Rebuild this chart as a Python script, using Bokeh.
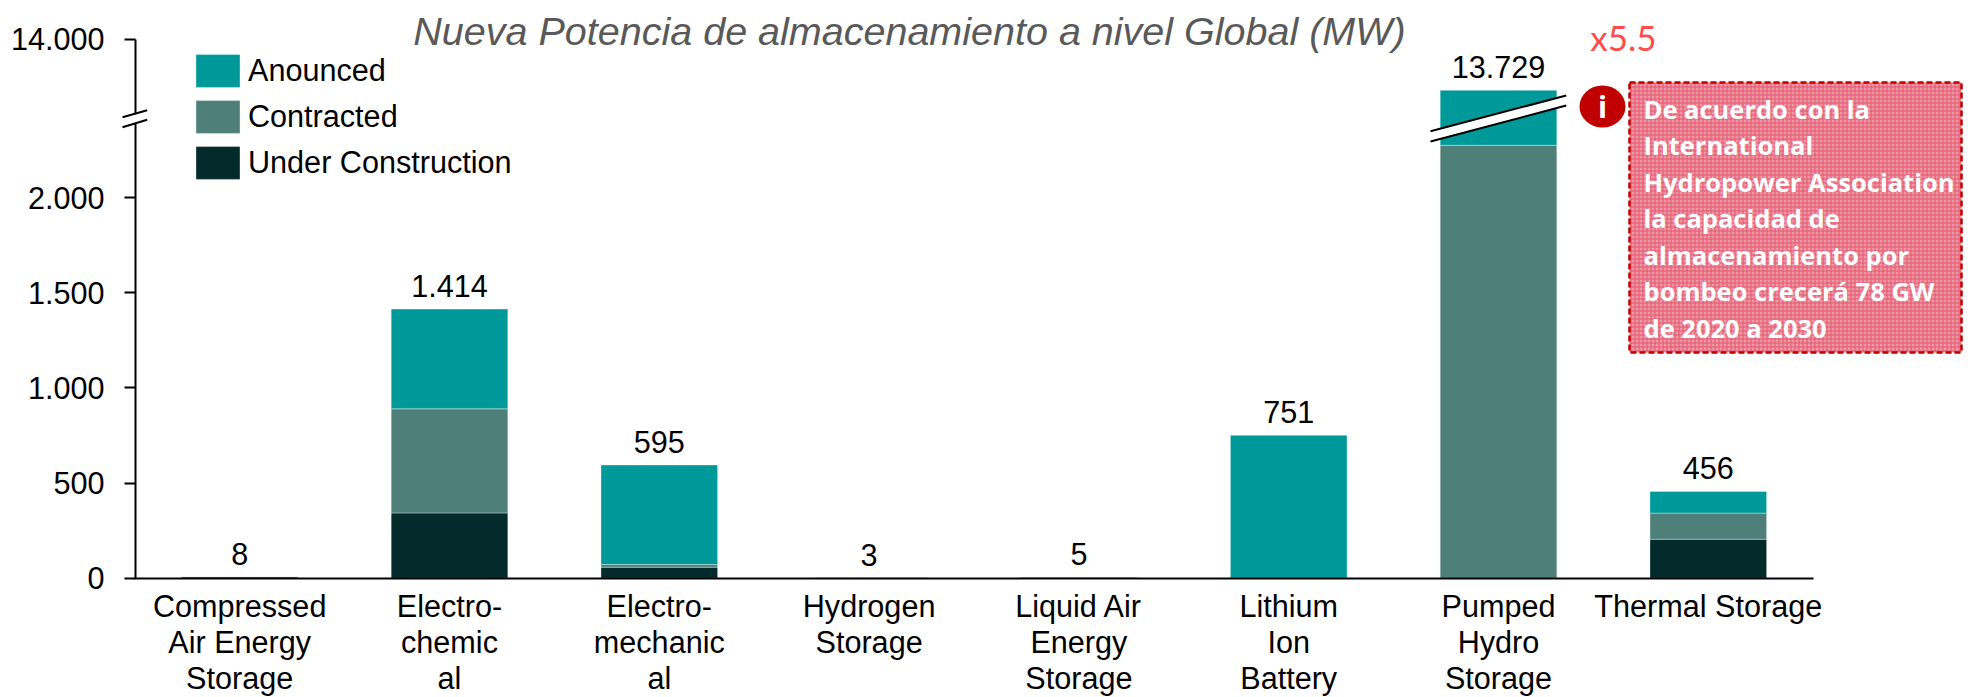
from bokeh.plotting import figure
from bokeh.models import Range1d, FixedTicker, Legend, LegendItem, ColumnDataSource
from bokeh.core.properties import value
from bokeh.embed import file_html
from bokeh.resources import INLINE

categories = ["Compressed\nAir Energy\nStorage", "Electro-\nchemic\nal", "Electro-\nmechanic\nal",
              "Hydrogen\nStorage", "Liquid Air\nEnergy\nStorage", "Lithium\nIon\nBattery",
              "Pumped\nHydro\nStorage", "Thermal Storage"]
# heights as drawn on the broken axis (the Pumped Hydro bar is cut by the break)
under_construction = [8, 343, 58, 0, 0, 0, 0, 205]
contracted = [0, 547, 14, 0, 0, 0, 2275, 137]
anounced = [0, 524, 523, 3, 5, 751, 289, 114]
total_labels = ["8", "1.414", "595", "3", "5", "751", "13.729", "456"]
y_ticks = [0, 500, 1000, 1500, 2000, 2833]
y_tick_labels = ["0", "500", "1.000", "1.500", "2.000", "14.000"]
title_text = "Nueva Potencia de almacenamiento a nivel Global (MW)"
note_lines = ["De acuerdo con la", "International", "Hydropower Association", "la capacidad de",
              "almacenamiento por", "bombeo crecerá 78 GW", "de 2020 a 2030"]

W, H = 1971, 697
BOTTOM = 577.7
UNIT_X = 209.8
UNIT_Y = 0.1903
X0 = 239.2


def px(x):
    return (x - X0) / UNIT_X


def py(y):
    return (BOTTOM - y) / UNIT_Y


p = figure(width=W, height=H, output_backend="svg", toolbar_location=None,
           x_range=Range1d(px(0), px(W)), y_range=Range1d(py(H), py(0)),
           min_border_left=0, min_border_right=0, min_border_top=0, min_border_bottom=0,
           outline_line_color=None, background_fill_color="white", border_fill_color="white")
p.grid.visible = False

FONT = "Liberation Sans"
SIZE = "30.6px"

xs = list(range(len(categories)))
source = ColumnDataSource(dict(x=xs, uc=under_construction, c=contracted, a=anounced))
stack = p.vbar_stack(["uc", "c", "a"], x="x", width=0.556, source=source,
                     color=["#032B2B", "#4E7F78", "#009999"],
                     line_color="white", line_alpha=0.35, line_width=1)

tops = [u + c + a for u, c, a in zip(under_construction, contracted, anounced)]
p.text(x=xs, y=tops, text=total_labels, text_align="center", text_baseline="bottom",
       y_offset=-12, text_font=value(FONT), text_font_size=SIZE, text_color="black")

legend = Legend(items=[LegendItem(label="Anounced", renderers=[stack[2]]),
                       LegendItem(label="Contracted", renderers=[stack[1]]),
                       LegendItem(label="Under Construction", renderers=[stack[0]])],
                location=(190, H - 185), orientation="vertical", glyph_width=55, glyph_height=41,
                label_height=46, spacing=0, padding=0, margin=0, label_standoff=3,
                border_line_color=None, background_fill_alpha=0,
                label_text_font=FONT, label_text_font_size=SIZE, label_text_color="black")
p.add_layout(legend, "center")

# axes
ya = p.yaxis[0]
ya.fixed_location = px(135)
ya.bounds = (0, y_ticks[-1])
ya.ticker = FixedTicker(ticks=y_ticks)
ya.major_label_overrides = dict(zip(y_ticks, y_tick_labels))
ya.major_tick_in = 0
ya.major_tick_out = 11
ya.minor_tick_line_color = None
ya.axis_line_width = 2
ya.axis_line_color = "black"
ya.major_tick_line_width = 2
ya.major_tick_line_color = "black"
ya.major_label_standoff = 20
ya.major_label_text_font = FONT
ya.major_label_text_font_size = SIZE
ya.major_label_text_color = "black"

xa = p.xaxis[0]
xa.fixed_location = 0
xa.bounds = (-0.5, 7.5)
xa.ticker = FixedTicker(ticks=xs)
xa.major_label_overrides = dict(zip(xs, categories))
xa.major_tick_in = 0
xa.major_tick_out = 0
xa.minor_tick_line_color = None
xa.axis_line_width = 2
xa.axis_line_color = "black"
xa.major_label_standoff = 11
xa.major_label_text_font = FONT
xa.major_label_text_font_size = SIZE
xa.major_label_text_color = "black"
xa.major_label_text_line_height = 1.06
xa.major_label_text_align = "center"

# axis and bar breaks
def brk(x0, y0a, y0b, x1, y1a, y1b):
    p.patch([px(x0), px(x1), px(x1), px(x0)], [py(y0a), py(y1a), py(y1b), py(y0b)],
            fill_color="white", line_color=None, level="overlay")
    p.line([px(x0), px(x1)], [py(y0a), py(y1a)], line_color="black", line_width=2, level="overlay")
    p.line([px(x0), px(x1)], [py(y0b), py(y1b)], line_color="black", line_width=2, level="overlay")

brk(122, 116.7, 126.7, 146.7, 109.7, 119.3)
brk(1430, 130.7, 141, 1565.7, 95, 105)

# title and annotations
p.text(x=[px(909)], y=[py(30.5)], text=[title_text], text_align="center", text_baseline="middle",
       text_font=value(FONT), text_font_style="italic", text_font_size="39.5px", text_color="#595959")
p.text(x=[px(1623)], y=[py(36.5)], text=["x5.5"], text_align="center", text_baseline="middle",
       text_font=value("Lato"), text_font_size="35px", text_color="#FF4B4B")

p.quad(left=[px(1629)], right=[px(1961)], top=[py(82)], bottom=[py(352)],
       fill_color="#EE97A6", hatch_pattern="cross", hatch_color="#E4566E", hatch_scale=4, hatch_weight=1,
       line_color="#C00000", line_width=2.5, line_dash="6 3", level="overlay")
p.ellipse(x=[px(1602)], y=[py(106)], width=46 / UNIT_X, height=42 / UNIT_Y,
          fill_color="#C00000", line_color=None, level="overlay")
p.text(x=[px(1602)], y=[py(106)], text=["i"], text_align="center", text_baseline="middle",
       text_font=value("Open Sans"), text_font_style="bold", text_font_size="30px", text_color="white", level="overlay")
for i, line in enumerate(note_lines):
    p.text(x=[px(1643)], y=[py(108 + 36.5 * i)], text=[line], text_align="left", text_baseline="middle",
           text_font=value("Open Sans"), text_font_style="bold", text_font_size="25.5px", text_color="white", level="overlay")

open("out.html", "w").write(file_html(p, INLINE))
